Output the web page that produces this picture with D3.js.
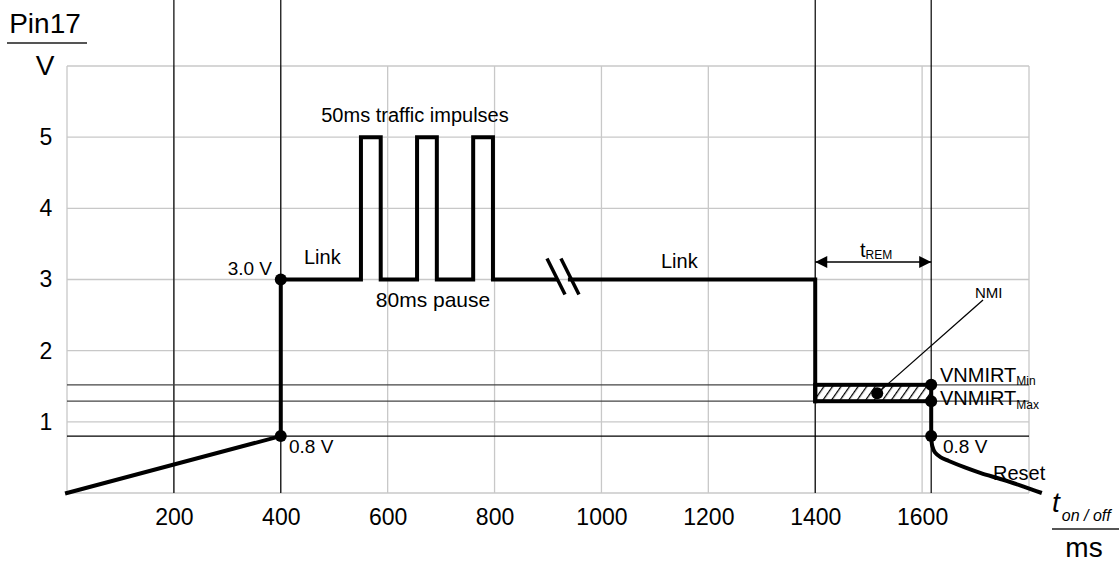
<!DOCTYPE html>
<html>
<head>
<meta charset="utf-8">
<script src="https://cdn.jsdelivr.net/npm/d3@7"></script>
<style>
  body { margin: 0; background: #fff; }
  text { font-family: Arial, "Liberation Sans", sans-serif; fill: #000; }
</style>
</head>
<body>
<svg id="chart" width="1120" height="565"></svg>
<script>
// tick labels
const xTicks = [200, 400, 600, 800, 1000, 1200, 1400, 1600]
const yTicks = [1, 2, 3, 4, 5]
const gridX = [0, 200, 400, 600, 800, 1000, 1200, 1400, 1600, 1800]
const gridY = [0, 1, 2, 3, 4, 5, 6]

// signal (ms, V)
const signalA = [[0, 0], [400, 0.8], [400, 3.0], [550, 3], [550, 5], [587, 5], [587, 3],
  [655, 3], [655, 5], [692, 5], [692, 3], [760, 3], [760, 5], [797, 5], [797, 3], [915, 3]]
const signalB = [[941, 3], [1400, 3], [1400, 1.29]]
const signalC = [[1617, 1.29], [1617, 0.8]]
const resetCurve = [[1617, 0.8], [1619, 0.66], [1624, 0.57], [1635, 0.5], [1650, 0.45],
  [1680, 0.36], [1710, 0.28], [1750, 0.19], [1790, 0.09], [1824, 0.0]]
const breakAt = [915, 941]

// marker lines
const blackX = [200, 400, 1400, 1617]
const level08 = 0.8
const vnmirtMin = 1.52
const vnmirtMax = 1.29
const tRem = [1400, 1617]
const dots = [[400, 3.0], [400, 0.8], [1617, vnmirtMin], [1617, vnmirtMax], [1617, 0.8]]
const nmiDot = [1516, 1.40]

const svg = d3.select('#chart')
const x = d3.scaleLinear().domain([0, 1800]).range([67, 1029])
const y = d3.scaleLinear().domain([0, 6]).range([493, 66])

// hatch pattern
const defs = svg.append('defs')
const pat = defs.append('pattern').attr('id', 'hatch').attr('patternUnits', 'userSpaceOnUse')
  .attr('width', 7).attr('height', 7).attr('patternTransform', 'rotate(35)')
pat.append('rect').attr('width', 7).attr('height', 7).attr('fill', '#fff')
pat.append('line').attr('x1', 0).attr('y1', 0).attr('x2', 0).attr('y2', 7)
  .attr('stroke', '#000').attr('stroke-width', 2.5)
const mk = defs.append('marker').attr('id', 'arr').attr('viewBox', '0 0 10 10')
  .attr('refX', 10).attr('refY', 5).attr('markerWidth', 20).attr('markerHeight', 12)
  .attr('markerUnits', 'userSpaceOnUse').attr('orient', 'auto-start-reverse')
mk.append('path').attr('d', 'M0,0L10,5L0,10z').attr('fill', '#000')

// grid
svg.append('g').selectAll('line').data(gridX).join('line')
  .attr('x1', d => x(d)).attr('x2', d => x(d)).attr('y1', y(6)).attr('y2', y(0))
  .attr('stroke', '#c8c8c8').attr('stroke-width', 1.3)
svg.append('g').selectAll('line').data(gridY).join('line')
  .attr('x1', x(0)).attr('x2', x(1800)).attr('y1', d => y(d)).attr('y2', d => y(d))
  .attr('stroke', '#c8c8c8').attr('stroke-width', 1.3)

// thin black lines
svg.append('g').selectAll('line').data(blackX).join('line')
  .attr('x1', d => x(d)).attr('x2', d => x(d)).attr('y1', 0).attr('y2', y(0))
  .attr('stroke', '#000').attr('stroke-width', 1.2)
svg.append('line').attr('x1', x(0)).attr('x2', x(1800)).attr('y1', y(level08)).attr('y2', y(level08))
  .attr('stroke', '#000').attr('stroke-width', 1.2)
svg.selectAll('.vn').data([vnmirtMin, vnmirtMax]).join('line')
  .attr('x1', x(0)).attr('x2', x(1800)).attr('y1', d => y(d)).attr('y2', d => y(d))
  .attr('stroke', '#444').attr('stroke-width', 1.2)

// hatched box
svg.append('rect').attr('x', x(1400)).attr('y', y(vnmirtMin))
  .attr('width', x(1617) - x(1400)).attr('height', y(vnmirtMax) - y(vnmirtMin))
  .attr('fill', 'url(#hatch)').attr('stroke', '#000').attr('stroke-width', 4)

// signal
const line = d3.line().x(d => x(d[0])).y(d => y(d[1]))
for (const s of [signalA, signalB, signalC]) {
  svg.append('path').attr('d', line(s)).attr('fill', 'none').attr('stroke', '#000')
    .attr('stroke-width', 4).attr('stroke-linejoin', 'miter').attr('stroke-linecap', 'square')
}
svg.append('path').attr('d', d3.line().x(d => x(d[0])).y(d => y(d[1])).curve(d3.curveCatmullRom)(resetCurve))
  .attr('fill', 'none').attr('stroke', '#000').attr('stroke-width', 4)

// break slashes
svg.selectAll('.brk').data(breakAt).join('line')
  .attr('x1', d => x(d) - 9).attr('y1', y(3) - 21).attr('x2', d => x(d) + 9).attr('y2', y(3) + 15)
  .attr('stroke', '#000').attr('stroke-width', 3.5)

// dots
svg.selectAll('.dot').data(dots).join('circle')
  .attr('cx', d => x(d[0])).attr('cy', d => y(d[1])).attr('r', 6).attr('fill', '#000')

// NMI leader
svg.append('line').attr('x1', x(nmiDot[0])).attr('y1', y(nmiDot[1])).attr('x2', 983).attr('y2', 300)
  .attr('stroke', '#000').attr('stroke-width', 1.3)
svg.append('circle').attr('cx', x(nmiDot[0])).attr('cy', y(nmiDot[1])).attr('r', 6).attr('fill', '#000')

// tREM arrow
svg.append('line').attr('x1', x(tRem[0])).attr('x2', x(tRem[1])).attr('y1', 262).attr('y2', 262)
  .attr('stroke', '#000').attr('stroke-width', 1.5)
  .attr('marker-start', 'url(#arr)').attr('marker-end', 'url(#arr)')

// axes
const xAxis = svg.append('g').attr('transform', `translate(0,${y(0)})`)
  .call(d3.axisBottom(x).tickValues(xTicks).tickFormat(d3.format('d')).tickSize(0).tickPadding(16))
xAxis.select('.domain').remove()
xAxis.selectAll('text').attr('font-size', 23).attr('font-family', 'Arial, Liberation Sans, sans-serif').attr('fill', '#000')
const yAxis = svg.append('g').attr('transform', `translate(${x(0)},0)`)
  .call(d3.axisLeft(y).tickValues(yTicks).tickFormat(d3.format('d')).tickSize(0))
yAxis.select('.domain').remove()
yAxis.selectAll('text').attr('font-size', 23).attr('font-family', 'Arial, Liberation Sans, sans-serif').attr('fill', '#000')
  .attr('text-anchor', 'middle').attr('x', -21)

// axis titles
svg.append('text').attr('x', 45).attr('y', 33).attr('text-anchor', 'middle').attr('font-size', 28).text('Pin17')
svg.append('line').attr('x1', 7).attr('x2', 87).attr('y1', 43).attr('y2', 43).attr('stroke', '#555').attr('stroke-width', 1.8)
svg.append('text').attr('x', 45).attr('y', 75).attr('text-anchor', 'middle').attr('font-size', 28).text('V')

const tt = svg.append('text').attr('x', 1052).attr('y', 512)
  .attr('font-family', 'Liberation Serif, DejaVu Serif, serif').attr('font-style', 'italic')
tt.append('tspan').attr('font-size', 28).text('t')
tt.append('tspan').attr('font-size', 16).attr('dy', 9).attr('dx', 2).text('on / off')
svg.append('line').attr('x1', 1052).attr('x2', 1119).attr('y1', 529).attr('y2', 529).attr('stroke', '#555').attr('stroke-width', 1.8)
svg.append('text').attr('x', 1084).attr('y', 557).attr('text-anchor', 'middle').attr('font-size', 28).text('ms')

// annotations
const note = (tx, ty, txt, size, anchor) => svg.append('text').attr('x', tx).attr('y', ty)
  .attr('font-size', size).attr('text-anchor', anchor || 'start').text(txt)
note(272, 275, '3.0 V', 19, 'end')
note(289, 453, '0.8 V', 19)
note(943, 453, '0.8 V', 19)
note(304, 264, 'Link', 20)
note(661, 268, 'Link', 20)
note(415, 122, '50ms traffic impulses', 20, 'middle')
note(433, 307, '80ms pause', 21, 'middle')
note(975, 298, 'NMI', 15)
note(993, 480, 'Reset', 20)

const tr = svg.append('text').attr('x', 860).attr('y', 257).attr('font-size', 20)
tr.append('tspan').text('t')
tr.append('tspan').attr('font-size', 12).attr('dy', 2).text('REM')

const vmin = svg.append('text').attr('x', 940).attr('y', 382).attr('font-size', 20)
vmin.append('tspan').text('VNMIRT')
vmin.append('tspan').attr('font-size', 12).attr('dy', 3).text('Min')
const vmax = svg.append('text').attr('x', 940).attr('y', 405).attr('font-size', 20)
vmax.append('tspan').text('VNMIRT')
vmax.append('tspan').attr('font-size', 12).attr('dy', 4).text('Max')
</script>
</body>
</html>
